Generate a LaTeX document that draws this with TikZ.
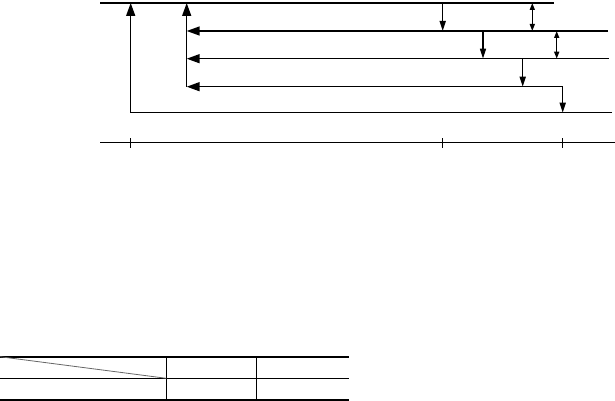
\documentclass[tikz,border=0pt]{standalone}
\usetikzlibrary{arrows.meta}
\begin{document}
\begin{tikzpicture}[x=1pt,y=-1pt,line width=1.5pt,
  bigtip/.style={-{Triangle[length=13pt,width=9pt]}},
  downtip/.style={-{Triangle[length=10pt,width=6pt]}},
  dbltip/.style={{Triangle[length=7pt,width=5pt]}-{Triangle[length=7pt,width=5pt]}},
  rule/.style={line width=1.0pt},
  thickrule/.style={line width=1.8pt}]
\useasboundingbox (0,0) rectangle (615,401);
% named coordinates
\coordinate (L0) at (100,3);   \coordinate (R0) at (554,3);
\coordinate (R1) at (608,31);  \coordinate (V1) at (186.7,31);
\coordinate (R2) at (609,58.7);\coordinate (V2) at (186.7,58.7);
\coordinate (C3) at (562.7,86.7);\coordinate (V3) at (186.7,86.7);
\coordinate (R4) at (612,112.7);\coordinate (C4) at (130.7,112.7);
\coordinate (T1) at (130.7,3);  \coordinate (T2) at (186.7,3);
\coordinate (D4) at (562.7,112.7);
% top line
\draw (L0) -- (R0);
% left arrows
\draw[bigtip] (R1) -- (V1);
\draw[bigtip] (R2) -- (V2);
\draw[bigtip] (C3) -- (V3);
% up arrows
\draw[bigtip] (V3) -- (T2);
\draw[bigtip] (R4) -- (C4) -- (T1);
% down arrows
\coordinate (a0) at (442.7,3);   \coordinate (a1) at (442.7,31);
\coordinate (b0) at (483,31);    \coordinate (b1) at (483,58.7);
\coordinate (c0) at (522.7,58.7);\coordinate (c1) at (522.7,86.7);
\draw[downtip] (a0) -- (a1);
\draw[downtip] (b0) -- (b1);
\draw[downtip] (c0) -- (c1);
\draw[downtip] (C3) -- (D4);
% double arrows
\coordinate (d0) at (532.3,3);   \coordinate (d1) at (532.3,31);
\coordinate (e0) at (556.7,31);  \coordinate (e1) at (556.7,58.7);
\draw[dbltip] (d0) -- (d1);
\draw[dbltip] (e0) -- (e1);
% axis
\coordinate (X0) at (100,142.7); \coordinate (X1) at (615,142.7);
\draw (X0) -- (X1);
\foreach \x/\n in {130.7/ta,442.7/tb,562.7/tc}{
  \coordinate (\n0) at (\x,138); \coordinate (\n1) at (\x,148);
  \draw (\n0) -- (\n1);
}
% table
\coordinate (TL) at (0,356.7); \coordinate (TR) at (349,356.7);
\coordinate (ML) at (0,378.3); \coordinate (MR) at (349,378.3);
\coordinate (BL) at (0,400.3); \coordinate (BR) at (349,400.3);
\draw[thickrule] (TL) -- (TR);
\draw[rule] (ML) -- (MR);
\draw[thickrule] (BL) -- (BR);
\coordinate (v1t) at (166.3,356.7); \coordinate (v1b) at (166.3,400.3);
\coordinate (v2t) at (256.7,356.7); \coordinate (v2b) at (256.7,400.3);
\draw[rule] (v1t) -- (v1b);
\draw[rule] (v2t) -- (v2b);
\coordinate (g1) at (166.3,378.3);
\draw[line width=0.8pt,black!60] (TL) -- (g1);
\end{tikzpicture}
\end{document}
